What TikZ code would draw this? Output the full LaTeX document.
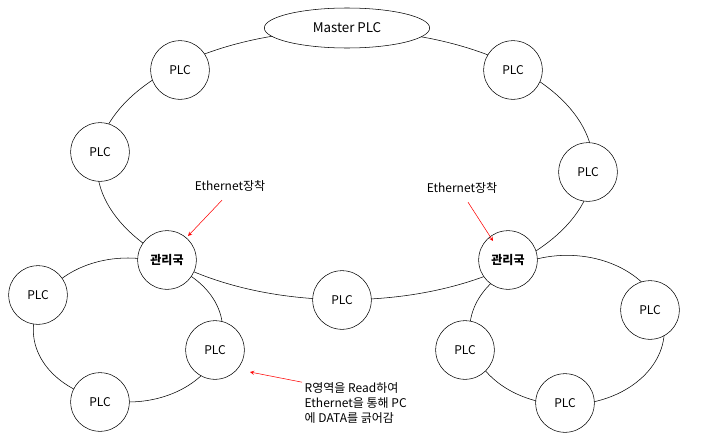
\documentclass[tikz,border=0pt]{standalone}
\usepackage{fontspec}
\setmainfont{Noto Sans CJK KR}
\usetikzlibrary{shapes.geometric}
\begin{document}
\begin{tikzpicture}[x=0.75pt,y=-0.75pt,
  plc/.style={draw,circle,fill=white,minimum size=44pt,inner sep=0pt,font=\fontsize{9}{10}\selectfont},
  lbl/.style={font=\fontsize{9}{11}\selectfont},
  arr/.style={red,->,>=stealth}]
\useasboundingbox (0,0) rectangle (703,446);
\fill[white] (0,0) rectangle (703,446);
\draw (345,165) ellipse [x radius=186pt, y radius=101pt];
\draw (128,330) ellipse [x radius=71pt, y radius=54pt];
\draw (567,330) ellipse [x radius=73pt, y radius=56pt];
\node[draw,ellipse,fill=white,minimum width=124pt,minimum height=30pt,inner sep=0pt,font=\fontsize{10}{12}\selectfont] (m) at (347,28) {Master PLC};
\node[plc] (p1) at (180,70) {PLC};
\node[plc] (p2) at (513,70) {PLC};
\node[plc] (p3) at (100,152) {PLC};
\node[plc] (p4) at (588,172) {PLC};
\node[plc] (k1) at (167,260) {\bfseries 관리국};
\node[plc] (k2) at (508,260) {\bfseries 관리국};
\node[plc] (p5) at (342,300) {PLC};
\node[plc] (l1) at (38,295) {PLC};
\node[plc] (l2) at (215,350) {PLC};
\node[plc] (l3) at (100,402) {PLC};
\node[plc] (r1) at (650,310) {PLC};
\node[plc] (r2) at (465,350) {PLC};
\node[plc] (r3) at (565,403) {PLC};
\node[lbl] (e1) at (230,186) {Ethernet장착};
\node[lbl] (e2) at (462,188) {Ethernet장착};
\node[lbl,align=left,anchor=west] (t) at (300,403) {R영역을 Read하여\\Ethernet을 통해 PC\\에 DATA를 긁어감};
\coordinate (a1) at (188,236);
\coordinate (a2) at (493,241);
\coordinate (a3) at (250,372);
\draw[arr] (e1.south) ++(-8,4) -- (a1);
\draw[arr] (e2.south) ++(6,4) -- (a2);
\draw[arr] (t.north west) ++(2,4) -- (a3);
\end{tikzpicture}
\end{document}
